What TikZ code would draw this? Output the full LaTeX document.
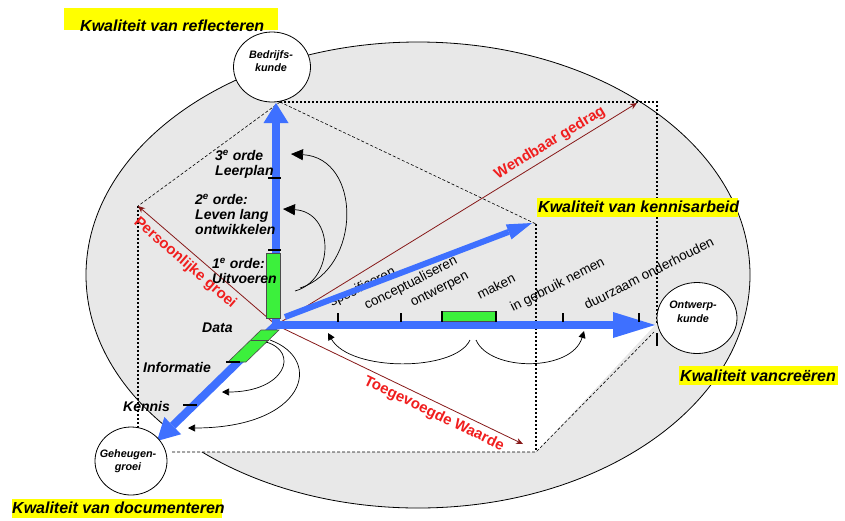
\documentclass[tikz,border=0pt]{standalone}
\usepackage{fontspec}
\setmainfont{Liberation Sans}
\usetikzlibrary{arrows.meta,shapes.geometric}
\definecolor{axisblue}{RGB}{62,112,255}
\definecolor{fillgray}{RGB}{232,232,232}
\definecolor{markgreen}{RGB}{60,240,60}
\definecolor{labelred}{RGB}{240,30,30}
\definecolor{linered}{RGB}{135,25,25}
\definecolor{hlyellow}{RGB}{255,255,0}
\tikzset{
  bluearrow/.style={draw=axisblue, line width=8pt},
  dotline/.style={line width=1.5pt, dash pattern=on 1.5pt off 2.5pt},
  dashline/.style={line width=0.6pt, dash pattern=on 3pt off 2pt},
  redline/.style={draw=linered, line width=0.8pt, -{Stealth[length=7pt,width=6pt]}},
  redlabel/.style={text=labelred, font=\fontsize{15}{18}\selectfont\bfseries, inner sep=0},
  axislabel/.style={font=\fontsize{13.5}{15}\selectfont, rotate=27, anchor=base west, inner sep=0},
  blacklabel/.style={font=\fontsize{14}{15}\selectfont\bfseries\itshape, inner sep=0, align=left},
  circ/.style={ellipse, draw=black, fill=white, line width=0.8pt, inner sep=0},
  circtext/.style={font=\fontsize{10.8}{13.5}\selectfont\bfseries\itshape, align=center, inner sep=0},
  kwal/.style={font=\fontsize{16}{18}\selectfont\bfseries\itshape, inner sep=0},
  greenmark/.style={fill=markgreen, draw=black!70, line width=0.6pt},
  tickmark/.style={line width=1.3pt},
  bigcurve/.style={line width=0.7pt, -{Triangle[length=12pt,width=11pt]}},
  smallcurve/.style={line width=0.7pt, -{Triangle[length=7pt,width=7pt]}}
}
\begin{document}
\begin{tikzpicture}[x=1pt,y=-1pt]
\useasboundingbox (0,0) rectangle (845,520);
\fill[white] (0,0) rectangle (845,520);
% big ellipse
\filldraw[fill=fillgray, draw=black, line width=0.8pt] (418,275) ellipse [x radius=332, y radius=233];
% coordinates
\coordinate (O) at (276,325);
\coordinate (Xe) at (655,325);
\coordinate (Ye) at (276,103);
\coordinate (Ze) at (157,441);
\coordinate (Ks) at (285,317);
\coordinate (Ke) at (532,223);
\coordinate (TL) at (280,102);
\coordinate (TR) at (657,102);
\coordinate (RB) at (657,325);
\coordinate (FL) at (138,206);
\coordinate (FLB) at (138,435);
\coordinate (FR) at (536,224);
\coordinate (FRB) at (536,452);
\coordinate (BL) at (172,452);
\coordinate (RB2) at (654,332);
\coordinate (Wend) at (637,103);
\coordinate (Toeg) at (523,444);
% white bottom face
\fill[white] (O) -- (Xe) -- (FRB) -- (BL) -- (Ze) -- cycle;
% box lines
\draw[dotline] (TL) -- (TR) -- (RB);
\draw[dotline] (FL) -- (FLB);
\draw[dotline] (FR) -- (FRB);
\draw[dashline] (TL) -- (FR);
\draw[dashline] (TL) -- (FL);
\draw[dashline] (BL) -- (FRB) -- (RB2);
% red lines
\draw[redline] (O) -- (Wend);
\draw[redline] (O) -- (FL);
\draw[redline] (O) -- (Toeg);
\node[redlabel, rotate=31.2] (wendlbl) at (550,143) {Wendbaar gedrag};
\node[redlabel, rotate=-41] (perslbl) at (185,263) {Persoonlijke groei};
\node[redlabel, rotate=-25.7] (toeglbl) at (434,414) {Toegevoegde Waarde};
% phase labels
\node[axislabel] (l1) at (332,307) {specificeren};
\node[axislabel] (l2) at (367,310) {conceptualiseren};
\node[axislabel] (l3) at (413,307) {ontwerpen};
\node[axislabel] (l4) at (480,300) {maken};
\node[axislabel] (l5) at (513,312) {in gebruik nemen};
\node[axislabel] (l6) at (587,310) {duurzaam onderhouden};
% blue axes
\draw[bluearrow, -{Triangle[length=20pt,width=25pt,line width=0pt]}] (O) -- (Ye);
\draw[bluearrow, -{Triangle[length=42pt,width=26pt,line width=0pt]}] (O) -- (Xe);
\draw[bluearrow, -{Triangle[length=22pt,width=24pt,line width=0pt]}] (O) -- (Ze);
\draw[draw=axisblue, line width=6pt, -{Triangle[length=25pt,width=16pt,line width=0pt]}] (Ks) -- (Ke);
% green marks
\filldraw[greenmark] (266,253) rectangle (280,318);
\filldraw[greenmark] (442,311) rectangle (496,321);
\filldraw[greenmark] (261,330) -- (279,330) -- (246,362) -- (228,362) -- cycle;
\draw[draw=black!70, line width=0.6pt] (251,340) -- (269,340);
% ticks
\draw[tickmark] (268,178) -- (281,178);
\draw[tickmark] (268,250) -- (281,250);
\draw[tickmark] (338,313) -- (338,322);
\draw[tickmark] (401,313) -- (401,322);
\draw[tickmark] (442,311) -- (442,322);
\draw[tickmark] (496,311) -- (496,322);
\draw[tickmark] (563,313) -- (563,322);
\draw[tickmark] (639,313) -- (639,322);
\draw[line width=2pt] (657,333) -- (657,346);
\draw[tickmark] (226,362) -- (240,362);
\draw[tickmark] (183,405) -- (197,405);
% curved arrows
\draw[bigcurve] (300,288) .. controls (362,268) and (362,158) .. (291,154);
\draw[bigcurve] (295,291) .. controls (335,280) and (335,212) .. (283,209);
\draw[smallcurve] (470,340) .. controls (455,372) and (350,372) .. (328,333);
\draw[smallcurve] (476,340) .. controls (490,372) and (572,372) .. (584,331);
\draw[smallcurve] (266,342) .. controls (300,352) and (285,392) .. (222,392);
\draw[smallcurve] (270,340) .. controls (325,360) and (305,428) .. (188,428);
% black labels
\node[blacklabel, anchor=north west] (ord3) at (215,150) {3\textsuperscript{e} orde\\Leerplan};
\node[blacklabel, anchor=north west] (ord2) at (195,194) {2\textsuperscript{e} orde:\\Leven lang\\ontwikkelen};
\node[blacklabel, anchor=north west] (ord1) at (212,258) {1\textsuperscript{e} orde:\\Uitvoeren};
\node[blacklabel, anchor=base west] (data) at (202,332) {Data};
\node[blacklabel, anchor=base west] (info) at (143,372) {Informatie};
\node[blacklabel, anchor=base west] (kennis) at (123,411) {Kennis};
% circles
\node[circ, minimum width=77pt, minimum height=70pt] (bedrijf) at (272,67) {};
\node[circtext] (bedrijftxt) at (271,61) {Bedrijfs-\\kunde};
\node[circ, minimum width=80pt, minimum height=71pt] (ontwerp) at (697,318) {};
\node[circtext] (ontwerptxt) at (693,312) {Ontwerp-\\kunde};
\node[circ, minimum width=72pt, minimum height=68pt] (geheugen) at (131,461) {};
\node[circtext] (geheugentxt) at (128,461) {Geheugen-\\groei};
% yellow labels
\fill[hlyellow] (64,8) rectangle (278,30);
\node[kwal, anchor=base west] (kref) at (80,31) {Kwaliteit van reflecteren};
\fill[hlyellow] (537,198) rectangle (738,217);
\node[kwal, anchor=base west] (kken) at (538,212) {Kwaliteit van kennisarbeid};
\fill[hlyellow] (679,366) rectangle (838,385);
\node[kwal, anchor=base west] (kcre) at (680,381) {Kwaliteit vancreëren};
\fill[hlyellow] (12,499) rectangle (222,518);
\node[kwal, anchor=base west] (kdoc) at (12,513) {Kwaliteit van documenteren};
\end{tikzpicture}
\end{document}
